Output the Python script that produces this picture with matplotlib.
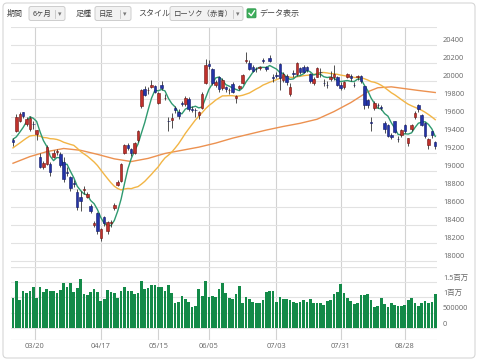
import matplotlib
matplotlib.use('Agg')
import matplotlib.pyplot as plt
from matplotlib.patches import FancyBboxPatch
from matplotlib import transforms
import numpy as np
import pandas as pd

# --- DATA (daily candles, 2017-03-09 .. 2017-09-08) ---
opens = [19340, 19440, 19560, 19650, 19520, 19470, 19525, 19410, 19160, 19050,
         19080, 19080, 19160, 19210, 19190, 19100, 18990, 18930, 18865, 18770,
         18715, 18790, 18715, 18610, 18395, 18530, 18250, 18490, 18330, 18425,
         18590, 18850, 18890, 19200, 19290, 19240, 19200, 19340, 19720, 19910,
         19895, 19930, 19940, 19760, 19950, 19810, 19560, 19570, 19700, 19660,
         19760, 19740, 19800, 19690, 19680, 19620, 19700, 19980, 20190, 20130,
         19955, 20040, 19920, 19930, 19895, 19970, 19810, 19920, 19980, 20225,
         20200, 20160, 20135, 20140, 20230, 20150, 20260, 20040, 20070, 20190,
         20010, 20060, 19860, 20085, 20080, 20140, 20160, 20150, 20075, 19975,
         20050, 20100, 19980, 19960, 20020, 20040, 20040, 19960, 19930, 20050,
         20060, 19955, 20040, 20060, 19940, 19790, 19540, 19700, 19735, 19710,
         19530, 19510, 19400, 19550, 19360, 19400, 19510, 19310, 19470, 19600,
         19730, 19620, 19530, 19290, 19440, 19320]
highs = [19370, 19630, 19660, 19660, 19600, 19610, 19560, 19460, 19200, 19110,
         19290, 19100, 19230, 19250, 19210, 19160, 19040, 18950, 18900, 18800,
         18780, 18830, 18770, 18630, 18440, 18550, 18370, 18500, 18450, 18460,
         18640, 18900, 19090, 19300, 19310, 19260, 19320, 19460, 19910, 19940,
         19930, 20010, 19960, 19880, 20000, 19860, 19600, 19640, 19720, 19690,
         19780, 19830, 19820, 19720, 19700, 19670, 19880, 20240, 20230, 20140,
         20010, 20060, 20030, 19950, 19920, 19990, 19850, 19960, 20080, 20318,
         20230, 20180, 20160, 20170, 20260, 20170, 20290, 20080, 20100, 20200,
         20100, 20080, 19980, 20120, 20210, 20160, 20180, 20170, 20090, 20040,
         20160, 20140, 20020, 20000, 20110, 20180, 20060, 19990, 20000, 20090,
         20080, 19990, 20070, 20070, 19950, 19800, 19600, 19780, 19760, 19730,
         19560, 19520, 19420, 19560, 19390, 19470, 19520, 19370, 19520, 19670,
         19740, 19630, 19540, 19370, 19450, 19330]
lows = [19280, 19430, 19540, 19590, 19500, 19450, 19470, 19340, 19030, 19020,
        19070, 18950, 19140, 19180, 19040, 18880, 18940, 18780, 18820, 18570,
        18560, 18740, 18700, 18530, 18380, 18300, 18224, 18390, 18300, 18380,
        18570, 18830, 18880, 19190, 19230, 19170, 19190, 19320, 19700, 19830,
        19860, 19920, 19870, 19740, 19900, 19790, 19450, 19480, 19640, 19580,
        19720, 19720, 19670, 19660, 19600, 19580, 19690, 19970, 20130, 19960,
        19930, 19880, 19900, 19880, 19860, 19870, 19760, 19900, 19970, 20200,
        20120, 20100, 20100, 20120, 20200, 20110, 20210, 19990, 20030, 19900,
        19990, 19960, 19830, 20050, 20060, 20080, 20090, 20100, 19980, 19960,
        20040, 20050, 19940, 19920, 20000, 20010, 19940, 19900, 19910, 20030,
        20000, 19930, 20010, 19980, 19690, 19700, 19450, 19680, 19700, 19680,
        19420, 19380, 19360, 19420, 19320, 19380, 19420, 19280, 19450, 19580,
        19660, 19500, 19370, 19240, 19370, 19240]
closes = [19318, 19604, 19633, 19609, 19577, 19590, 19521, 19455, 19041, 19085,
          19262, 18985, 19202, 19217, 19063, 18909, 18983, 18810, 18861, 18597,
          18664, 18797, 18747, 18552, 18426, 18335, 18355, 18418, 18432, 18430,
          18620, 18875, 19079, 19289, 19251, 19196, 19310, 19445, 19895, 19843,
          19900, 19961, 19883, 19869, 19919, 19814, 19553, 19590, 19678, 19613,
          19742, 19813, 19686, 19682, 19677, 19650, 19860, 20177, 20170, 19980,
          19985, 19910, 20013, 19908, 19898, 19883, 19831, 19943, 20067, 20230,
          20138, 20110, 20132, 20153, 20225, 20130, 20220, 20033, 20055, 20032,
          20081, 19994, 19929, 20080, 20195, 20098, 20099, 20118, 20000, 20020,
          20144, 20099, 19975, 19955, 20050, 20079, 19959, 19925, 19985, 20080,
          20029, 19952, 20055, 19996, 19738, 19729, 19537, 19753, 19729, 19702,
          19470, 19393, 19383, 19434, 19353, 19452, 19449, 19362, 19506, 19646,
          19691, 19508, 19385, 19357, 19396, 19274]
# closes before the window (needed for the 5/25-day averages)
prior_closes = [18918, 18976, 18910, 18907, 19007, 19378, 19459, 19238, 19437, 19347,
                19234, 19251, 19381, 19379, 19371, 19283, 19107, 19118, 19393, 19564,
                19469, 19379, 19344, 19254]
volume_k = [990, 1540, 910, 1220, 1130, 1220, 1350, 990, 1350, 1180,
            1260, 1200, 1200, 1130, 1240, 1480, 1350, 1460, 1180, 1300,
            1600, 1100, 1090, 1180, 1260, 1180, 880, 960, 1240, 1180,
            1150, 990, 1200, 1330, 1200, 1200, 1100, 1150, 1520, 1260,
            1300, 1390, 1390, 1350, 1330, 1200, 1390, 1150, 800, 860,
            1040, 960, 860, 670, 730, 1270, 1050, 1540, 1020, 1040,
            1020, 1270, 1480, 1130, 990, 930, 1100, 1380, 830, 1020,
            930, 860, 800, 800, 910, 1180, 1220, 1220, 860, 1020,
            940, 930, 910, 860, 800, 860, 910, 860, 940, 830,
            830, 830, 750, 890, 910, 1100, 1180, 1430, 1130, 970,
            890, 780, 800, 1080, 1080, 1100, 910, 700, 730, 970,
            770, 700, 800, 750, 720, 720, 750, 910, 970, 830,
            730, 830, 890, 830, 860, 1100]
# 75-day average
ma75_idx = [0, 5, 10, 15, 20, 25, 30, 35, 40, 45, 50, 55, 60, 65, 70, 75, 80,
            85, 90, 95, 100, 105, 108, 112, 116, 120, 125]
ma75_val = [19086, 19160, 19215, 19250, 19230, 19185, 19135, 19105, 19140, 19195,
            19230, 19265, 19310, 19365, 19410, 19455, 19495, 19530, 19575, 19660,
            19760, 19880, 19925, 19935, 19915, 19895, 19872]

date_pos = [6.4, 26, 43, 58, 78, 97, 116]
date_labels = ['03/20', '04/17', '05/15', '06/05', '07/03', '07/31', '08/28']
price_ticks = [18000, 18200, 18400, 18600, 18800, 19000, 19200,
               19400, 19600, 19800, 20000, 20200, 20400]
vol_ticks = [0, 500000, 1000000, 1500000]
vol_labels = ['0', '500000', '1百万', '1.5百万']

# --- STYLE ---
UP_FACE, UP_EDGE = '#c0312c', '#6e1512'
DN_FACE, DN_EDGE = '#2233a8', '#121a66'
VOL_COLOR = '#138a48'
MA5_COLOR, MA25_COLOR, MA75_COLOR = '#2f9a70', '#f2b545', '#ec9150'
GRID_H, GRID_V = '#e2e2e2', '#d2d2d2'
LABEL_COLOR = '#666666'
CJK = ['Noto Sans CJK JP', 'DejaVu Sans']
NUM = ['Open Sans', 'Noto Sans CJK JP', 'DejaVu Sans']

W, H = 480, 362
fig = plt.figure(figsize=(W / 100, H / 100), dpi=100)
fig.patch.set_facecolor('white')

# overlay in pixel coordinates for frame and toolbar
ui = fig.add_axes([0, 0, 1, 1], zorder=0)
ui.set_xlim(0, W)
ui.set_ylim(H, 0)
ui.axis('off')
ui.add_patch(FancyBboxPatch((3, 3), 472, 355, boxstyle='round,pad=0,rounding_size=4',
                            fc='white', ec='#d6d6d6', lw=0.8))

def button(x0, x1, text, sep_x):
    ui.add_patch(FancyBboxPatch((x0, 6.5), x1 - x0, 14, boxstyle='round,pad=0,rounding_size=2',
                                fc='#f2f2f2', ec='#cdcdcd', lw=0.7))
    ui.text(x0 + 4, 13.8, text, family=CJK, fontsize=5.3, color='#444', va='center', ha='left')
    ui.plot([sep_x, sep_x], [10, 17.5], color='#c4c4c4', lw=0.6)
    ui.text(sep_x + 5, 13.8, '▾', family=['DejaVu Sans'], fontsize=5, color='#777',
            va='center', ha='center')

ui.text(7, 13.8, '期間', family=CJK, fontsize=5.8, color='#444', va='center')
button(29, 65, '6ヶ月', 55)
ui.text(76, 13.8, '足種', family=CJK, fontsize=5.8, color='#444', va='center')
button(95, 131, '日足', 120)
ui.text(138, 13.8, 'スタイル', family=CJK, fontsize=5.8, color='#444', va='center')
button(170, 243, 'ローソク（赤青）', 233)
ui.add_patch(FancyBboxPatch((247, 8.8), 9, 9, boxstyle='round,pad=0,rounding_size=1',
                            fc='#3eae5c', ec='#2e9a4c', lw=0.6))
ui.plot([249, 251.2, 254.5], [13.3, 15.6, 10.8], color='white', lw=1.0)
ui.text(259, 13.8, 'データ表示', family=CJK, fontsize=5.8, color='#444', va='center')

# --- price panel ---
x_left, x_right = 11, 437
px_per_day = 3.378
xlim = ((x_left - 13) / px_per_day, (x_right - 13) / px_per_day)
y_top, y_mid, y_bot = 27, 267, 340
px_per_yen = 18 / 200.0

ax = fig.add_axes([x_left / W, 1 - y_mid / H, (x_right - x_left) / W, (y_mid - y_top) / H], zorder=2)
axv = fig.add_axes([x_left / W, 1 - y_bot / H, (x_right - x_left) / W, (y_bot - y_mid) / H], zorder=2)
for a in (ax, axv):
    a.set_facecolor('none')
    a.set_xlim(*xlim)
    for s in a.spines.values():
        s.set_visible(False)
    a.tick_params(left=False, right=False, bottom=False, top=False,
                  labelleft=False, labelbottom=False)
    for p in date_pos:
        a.axvline(p, color=GRID_V, lw=0.8, zorder=0)

ax.set_ylim(20600 - (y_mid - y_top) / px_per_yen, 20600)
for v in price_ticks + [20600]:
    ax.axhline(v, color=GRID_H, lw=0.8, zorder=0)

x = np.arange(len(closes))
o = np.array(opens, float)
c = np.array(closes, float)
hi = np.array(highs, float)
lo = np.array(lows, float)
up = c >= o

# moving averages
all_close = pd.Series(prior_closes + closes, dtype=float)
ma5 = all_close.rolling(5).mean().values[len(prior_closes):]
ma25 = all_close.rolling(25).mean().values[len(prior_closes):]
ax.plot(ma75_idx, ma75_val, color=MA75_COLOR, lw=1.0, zorder=1)
ax.plot(x, ma25, color=MA25_COLOR, lw=1.0, zorder=1)
ax.plot(x, ma5, color=MA5_COLOR, lw=1.0, zorder=1)

# candles
ax.vlines(x, lo, hi, color='#333333', lw=0.6, zorder=2)
body_low = np.minimum(o, c)
body_h = np.maximum(np.abs(c - o), 6)
ax.bar(x[up], body_h[up], bottom=body_low[up], width=0.74,
       color=UP_FACE, edgecolor=UP_EDGE, lw=0.4, zorder=3)
ax.bar(x[~up], body_h[~up], bottom=body_low[~up], width=0.74,
       color=DN_FACE, edgecolor=DN_EDGE, lw=0.4, zorder=3)

# --- volume panel ---
vol_per_px = 1e6 / 30.67
axv.set_ylim(-(y_bot - 328) * vol_per_px, (328 - y_mid) * vol_per_px)
for v in vol_ticks:
    axv.axhline(v, color=GRID_H, lw=0.8, zorder=0)
axv.axhline(axv.get_ylim()[1], color=GRID_H, lw=0.9, zorder=0)
axv.axhline(axv.get_ylim()[0], color=GRID_H, lw=0.9, zorder=0)
axv.bar(x, np.array(volume_k) * 1000, width=0.8, color=VOL_COLOR, lw=0, zorder=1)

# --- labels ---
lab_x = (443 - x_left) / (x_right - x_left)
up_off = transforms.offset_copy(ax.get_yaxis_transform(), fig=fig, x=0, y=4, units='dots')
for v in price_ticks:
    ax.text(lab_x, v, str(v), transform=up_off, family=NUM, fontsize=5.3,
            color=LABEL_COLOR, va='center', ha='left', clip_on=False)
vup_off = transforms.offset_copy(axv.get_yaxis_transform(), fig=fig, x=0, y=4, units='dots')
for v, t in zip(vol_ticks, vol_labels):
    axv.text(lab_x, v, t, transform=vup_off, family=NUM, fontsize=5.3,
             color=LABEL_COLOR, va='center', ha='left', clip_on=False)
for p, t in zip(date_pos, date_labels):
    ui.text(13 + p * px_per_day, 346.5, t, family=NUM, fontsize=5.4,
            color=LABEL_COLOR, va='center', ha='center')

fig.savefig('out.png', dpi=100, facecolor='white')
